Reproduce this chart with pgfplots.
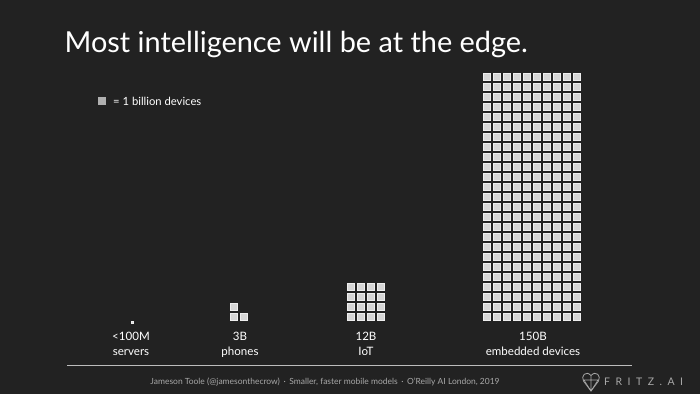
\documentclass[border=0pt]{standalone}
\usepackage{fontspec}
\setmainfont{Lato}
\usepackage{pgfplots}
\pgfplotsset{compat=1.18}
\definecolor{bg}{HTML}{222222}
\definecolor{sq}{HTML}{D6D6D6}
\definecolor{sqedge}{HTML}{EEEEEE}
\definecolor{legsq}{HTML}{B0B0B0}
\definecolor{foot}{HTML}{A8A8A8}
\definecolor{rule}{HTML}{BDBDBD}
\begin{document}
\begin{tikzpicture}
\fill[bg] (0,0) rectangle (700bp,394bp);
\begin{axis}[at={(0,0)}, anchor=south west, width=700bp, height=394bp, scale only axis,
  xmin=0, xmax=700, ymin=0, ymax=394, y dir=reverse, hide axis, clip=false]
% 150B embedded devices (as drawn: 10 x 25)
\addplot[only marks, mark=square*, mark size=3.5bp, mark options={fill=sq, draw=sqedge, line width=0.6bp}] coordinates {
(487,77) (497,77) (507,77) (517,77) (527,77) (537,77) (547,77) (557,77) (567,77) (577,77)
(487,87) (497,87) (507,87) (517,87) (527,87) (537,87) (547,87) (557,87) (567,87) (577,87)
(487,97) (497,97) (507,97) (517,97) (527,97) (537,97) (547,97) (557,97) (567,97) (577,97)
(487,107) (497,107) (507,107) (517,107) (527,107) (537,107) (547,107) (557,107) (567,107) (577,107)
(487,117) (497,117) (507,117) (517,117) (527,117) (537,117) (547,117) (557,117) (567,117) (577,117)
(487,127) (497,127) (507,127) (517,127) (527,127) (537,127) (547,127) (557,127) (567,127) (577,127)
(487,137) (497,137) (507,137) (517,137) (527,137) (537,137) (547,137) (557,137) (567,137) (577,137)
(487,147) (497,147) (507,147) (517,147) (527,147) (537,147) (547,147) (557,147) (567,147) (577,147)
(487,157) (497,157) (507,157) (517,157) (527,157) (537,157) (547,157) (557,157) (567,157) (577,157)
(487,167) (497,167) (507,167) (517,167) (527,167) (537,167) (547,167) (557,167) (567,167) (577,167)
(487,177) (497,177) (507,177) (517,177) (527,177) (537,177) (547,177) (557,177) (567,177) (577,177)
(487,187) (497,187) (507,187) (517,187) (527,187) (537,187) (547,187) (557,187) (567,187) (577,187)
(487,197) (497,197) (507,197) (517,197) (527,197) (537,197) (547,197) (557,197) (567,197) (577,197)
(487,207) (497,207) (507,207) (517,207) (527,207) (537,207) (547,207) (557,207) (567,207) (577,207)
(487,217) (497,217) (507,217) (517,217) (527,217) (537,217) (547,217) (557,217) (567,217) (577,217)
(487,227) (497,227) (507,227) (517,227) (527,227) (537,227) (547,227) (557,227) (567,227) (577,227)
(487,237) (497,237) (507,237) (517,237) (527,237) (537,237) (547,237) (557,237) (567,237) (577,237)
(487,247) (497,247) (507,247) (517,247) (527,247) (537,247) (547,247) (557,247) (567,247) (577,247)
(487,257) (497,257) (507,257) (517,257) (527,257) (537,257) (547,257) (557,257) (567,257) (577,257)
(487,267) (497,267) (507,267) (517,267) (527,267) (537,267) (547,267) (557,267) (567,267) (577,267)
(487,277) (497,277) (507,277) (517,277) (527,277) (537,277) (547,277) (557,277) (567,277) (577,277)
(487,287) (497,287) (507,287) (517,287) (527,287) (537,287) (547,287) (557,287) (567,287) (577,287)
(487,297) (497,297) (507,297) (517,297) (527,297) (537,297) (547,297) (557,297) (567,297) (577,297)
(487,307) (497,307) (507,307) (517,307) (527,307) (537,307) (547,307) (557,307) (567,307) (577,307)
(487,317) (497,317) (507,317) (517,317) (527,317) (537,317) (547,317) (557,317) (567,317) (577,317)
};
% 12B IoT (as drawn: 4 x 4)
\addplot[only marks, mark=square*, mark size=3.5bp, mark options={fill=sq, draw=sqedge, line width=0.6bp}] coordinates {
(351,287) (361,287) (371,287) (381,287)
(351,297) (361,297) (371,297) (381,297)
(351,307) (361,307) (371,307) (381,307)
(351,317) (361,317) (371,317) (381,317)
};
% 3B phones
\addplot[only marks, mark=square*, mark size=3.5bp, mark options={fill=sq, draw=sqedge, line width=0.6bp}] coordinates {
(234,307) (234,317) (244,317)
};
% <100M servers
\addplot[only marks, mark=square*, mark size=1.2bp, mark options={fill=sq, draw=sqedge, line width=0.3bp}] coordinates {
(132,322)
};
% legend
\addplot[only marks, mark=square*, mark size=3.5bp, mark options={fill=legsq, draw=legsq}] coordinates {(102,101)};
\node[anchor=west, white, font=\fontsize{11.3}{13}\selectfont, inner sep=0pt] at (axis cs:113,101.5) {= 1 billion devices};
% title
\node[anchor=base west, white, font=\fontsize{29}{33}\selectfont, inner sep=0pt] at (axis cs:64.5,52.5) {Most intelligence will be at the edge.};
% category labels
\foreach \x/\a/\b in {131/{<100M}/servers, 240/3B/phones, 366/12B/IoT, 533/150B/embedded devices}{
  \edef\tmp{\noexpand\node[anchor=base, white, font=\noexpand\fontsize{11.6}{14}\noexpand\selectfont, inner sep=0pt, align=center] at (axis cs:\x,340.5) {\a};
  \noexpand\node[anchor=base, white, font=\noexpand\fontsize{11.6}{14}\noexpand\selectfont, inner sep=0pt] at (axis cs:\x,355) {\b};}
  \tmp
}
% rule
\draw[rule, line width=1.6bp] (axis cs:67,365.5) -- (axis cs:632,365.5);
% footer
\node[anchor=base, foot, font=\fontsize{8.5}{10}\selectfont, inner sep=0pt] at (axis cs:325,384) {Jameson Toole (@jamesonthecrow) \,·\, Smaller, faster mobile models \,·\, O'Reilly AI London, 2019};
% logo
\draw[foot, line width=0.8bp, line join=round] (axis cs:591,391) -- (axis cs:583.5,381) .. controls (axis cs:580.5,376) and (axis cs:586,370) .. (axis cs:591,375.5) .. controls (axis cs:596,370) and (axis cs:601.5,376) .. (axis cs:598.5,381) -- cycle;
\draw[foot, line width=0.6bp] (axis cs:584,380) -- (axis cs:598,380) -- (axis cs:591,391) -- cycle (axis cs:591,375.5) -- (axis cs:591,391);
\node[anchor=base west, foot, font=\fontsize{10.5}{12}\selectfont, inner sep=0pt] at (axis cs:604,385) {F\kern5.5bp R\kern5.5bp I\kern5.5bp T\kern5.5bp Z\kern5.5bp .\kern5.5bp A\kern5.5bp I};
\end{axis}
\end{tikzpicture}
\end{document}
